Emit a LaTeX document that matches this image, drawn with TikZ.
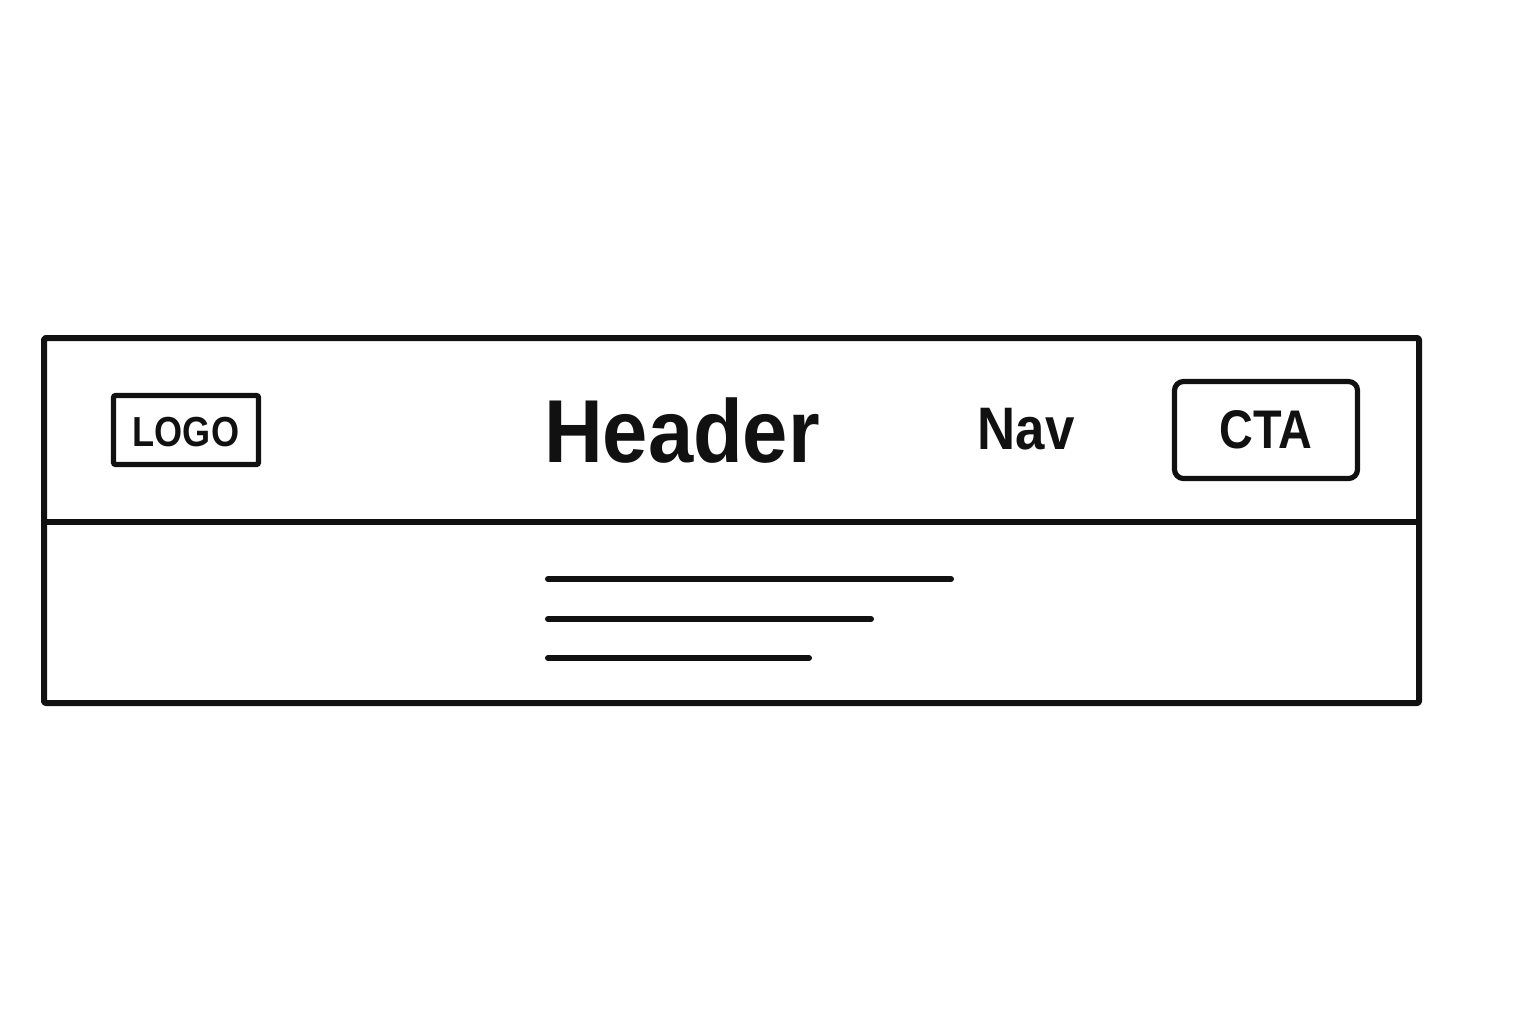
\documentclass[tikz,border=0pt]{standalone}
\usepackage{fontspec}
\setmainfont{Liberation Sans}
\definecolor{ink}{HTML}{111111}
\begin{document}
\begin{tikzpicture}[x=0.5pt,y=-0.5pt,
  frame/.style={draw=ink,line width=3pt,line join=round},
  boxstyle/.style={draw=ink,line width=2.6pt,inner sep=0pt},
  label/.style={text=ink,inner sep=0pt,anchor=base},
  textline/.style={draw=ink,line width=3pt,line cap=round}]
\useasboundingbox (0,0) rectangle (1536,1024);
% outer frame
\draw[frame,rounded corners=1pt] (44,338) rectangle (1419,703);
\draw[frame] (44,522) -- (1419,522);
% logo box
\node[boxstyle,minimum width=72.5pt,minimum height=34.5pt,rounded corners=1pt] (logobox) at (186,430) {};
\node[label] (logo) at (186,446) {\scalebox{0.86}[1]{\fontsize{21}{24}\selectfont\bfseries LOGO}};
% header
\node[label] (header) at (682,462) {\scalebox{0.91}[1]{\fontsize{44.7}{50}\selectfont\bfseries Header}};
% nav
\node[label] (nav) at (1026,449) {\scalebox{0.88}[1]{\fontsize{30}{34}\selectfont\bfseries Nav}};
% CTA button
\node[boxstyle,minimum width=91.5pt,minimum height=48.5pt,rounded corners=4.5pt] (ctabox) at (1266,430) {};
\node[label] (cta) at (1266,448) {\scalebox{0.86}[1]{\fontsize{27.2}{30}\selectfont\bfseries CTA}};
% text lines
\draw[textline] (548,579) -- (951,579);
\draw[textline] (548,619) -- (871,619);
\draw[textline] (548,658) -- (809,658);
\end{tikzpicture}
\end{document}
